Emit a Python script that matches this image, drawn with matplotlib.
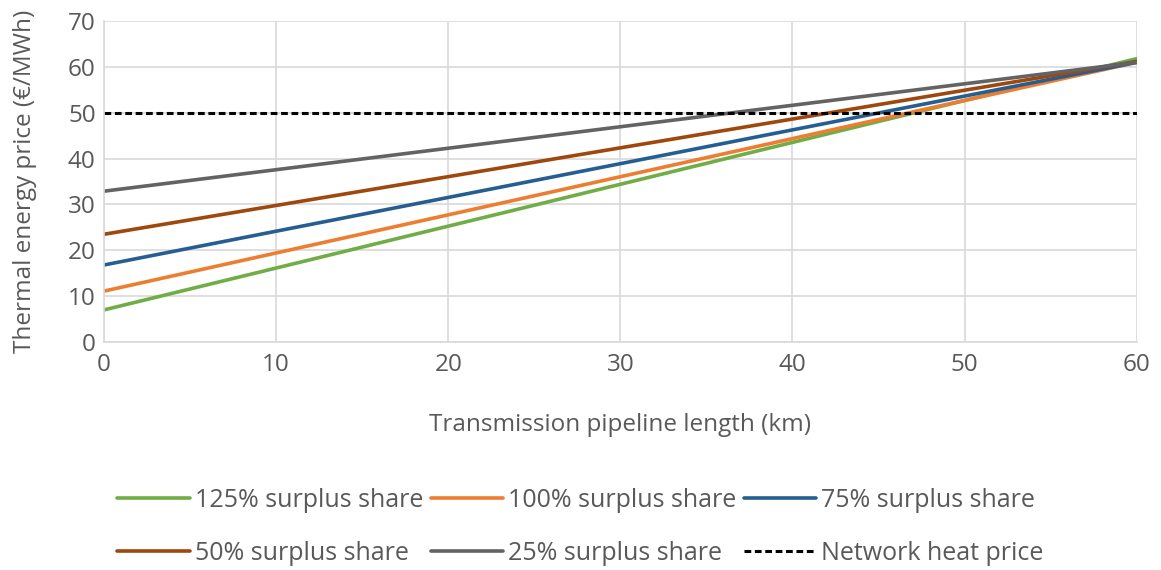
import matplotlib
matplotlib.use("Agg")
from matplotlib import pyplot as plt

plt.rcParams['font.family'] = ['Open Sans', 'DejaVu Sans']

lengths = [0, 60]
share_labels = ["125% surplus share", "100% surplus share", "75% surplus share",
                "50% surplus share", "25% surplus share"]
share_prices = [
    [7.0, 61.8],
    [11.1, 61.0],
    [16.8, 61.0],
    [23.5, 61.2],
    [32.9, 61.0],
]
share_colors = ["#70ad47", "#ed7d31", "#255e91", "#9e480e", "#636363"]
network_price = 50

fig = plt.figure(figsize=(11.61, 5.70), dpi=100)
ax = fig.add_axes([0.0896, 0.4, 0.8894, 0.563])

for label, prices, color in zip(share_labels, share_prices, share_colors):
    ax.plot(lengths, prices, color=color, lw=2.6, label=label, solid_capstyle="round")
ax.plot(lengths, [network_price] * len(lengths), color="black", lw=2.2,
        ls=(0, (2.2, 1.2)), label="Network heat price")

ax.set_xlim(0, 60)
ax.set_ylim(0, 70)
ax.set_xticks(range(0, 61, 10))
ax.set_yticks(range(0, 71, 10))
ax.grid(True, color="#d9d9d9", lw=1.2)
ax.set_axisbelow(True)
for s in ["top", "right"]:
    ax.spines[s].set_visible(False)
for s in ["left", "bottom"]:
    ax.spines[s].set_color("#d9d9d9")
    ax.spines[s].set_linewidth(1.2)
ax.tick_params(length=0, labelsize=17.5, colors="#595959", pad=8)
ax.tick_params(axis="y", pad=6)
ax.set_xlabel("Transmission pipeline length (km)", fontsize=17.5, color="#595959", labelpad=26)
ax.set_ylabel("Thermal energy price (€/MWh)", fontsize=17.5, color="#595959", labelpad=22)

# legend fills column-wise; reorder so rows read like the original
handles, labels = ax.get_legend_handles_labels()
order = [0, 3, 1, 4, 2, 5]
fig.legend([handles[i] for i in order], [labels[i] for i in order],
           loc="lower center", bbox_to_anchor=(0.5, -0.032), ncol=3,
           frameon=False, fontsize=18, labelcolor="#595959", handlelength=2.9,
           handletextpad=0.2, columnspacing=0.3, labelspacing=1.1)

fig.savefig("out.png", dpi=100)
